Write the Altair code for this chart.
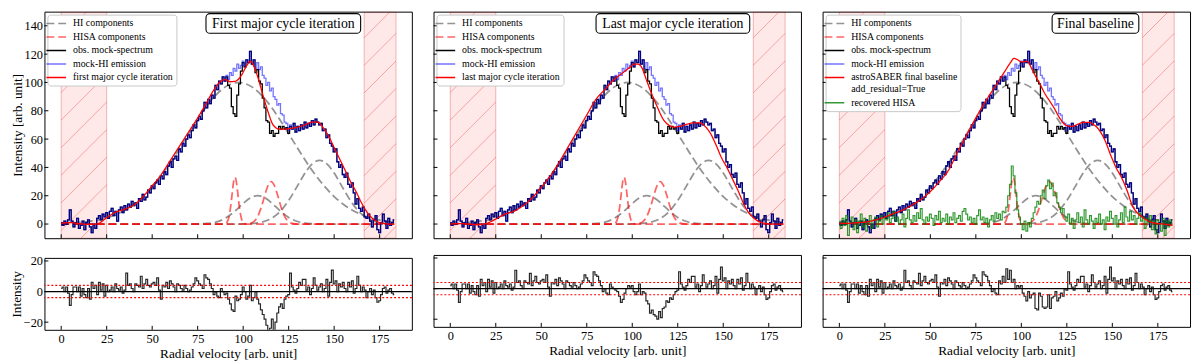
import altair as alt
import numpy as np
import pandas as pd

FONT = "Liberation Serif, Times New Roman, serif"

# ---------------- data ----------------
channels = list(range(184))

mock_hi = [1, -1, 2, 0, 3, 10, 2, -2, 1, 4,
           -3, -1, 2, -4, 1, 3, -2, -6, 0, -3,
           4, 6, 3, 7, 5, 8, 4, 9, 11, 6,
           9, 2, 10, 12, 8, 13, 10, 14, 12, 16,
           13, 15, 11, 18, 16, 21, 17, 19, 24, 22,
           27, 25, 29, 31, 28, 34, 32, 37, 35, 41,
           44, 40, 46, 48, 45, 53, 51, 57, 55, 60,
           63, 61, 66, 70, 68, 73, 76, 74, 80, 86,
           82, 88, 85, 91, 89, 98, 95, 101, 99, 104,
           101, 105, 102, 107, 105, 110, 108, 113, 110, 112,
           115, 111, 116, 114, 122, 113, 116, 110, 114, 109,
           111, 105, 103, 98, 100, 94, 96, 90, 88, 84,
           85, 78, 77, 72, 71, 66, 70, 67, 71, 65,
           69, 66, 70, 67, 72, 68, 71, 69, 73, 70,
           74, 72, 70, 71, 66, 67, 61, 63, 57, 55,
           51, 53, 44, 40, 42, 35, 33, 36, 28, 26,
           29, 22, 14, 18, 11, 9, 12, 5, 4, 7,
           2, -2, 3, 6, -4, -6, 1, 7, 2, -3,
           4, -1, 1, 3]

# observed spectrum differs from the mock-HI only in channels 91..126
obs_mid = [104, 98, 96, 83, 78, 76, 91, 99, 108, 114,
           111, 116, 114, 122, 113, 116, 107, 109, 101, 99,
           89, 82, 73, 72, 64, 66, 62, 64, 64, 69,
           67, 69, 67, 68, 64, 69]
obs = mock_hi[:91] + obs_mid + mock_hi[127:]

resid_first = [2, 3, 0, 3, -1, -9, -2, 3, 3, 0,
               3, -3, 2, -2, -4, 2, -5, 6, 2, 4,
               -2, 6, 1, 5, -3, 4, 0, 1, 3, 0,
               5, 2, 1, 3, -1, 1, 12, 4, 5, 2,
               0, 5, 4, 3, 10, 2, 5, 8, 4, 3,
               5, 6, 4, 9, 1, -5, 4, 3, 6, 2,
               7, 5, 3, 0, 5, 4, 2, 1, 4, 2,
               0, 1, 3, 5, 9, 7, 5, 4, 2, 11,
               9, 8, 5, 2, -2, 0, -3, -4, 2, 0,
               -2, -1, -5, -8, -12, -13, -3, -6, -5, -2,
               3, 0, -5, -3, 4, -6, -4, 0, -5, -8,
               -12, -15, -18, -22, -27, -24, -18, -26, -20, -14,
               -10, -8, -11, -5, -3, -2, 12, 3, 1, -1,
               2, 6, 4, 8, 8, 1, 3, -2, 2, 9,
               4, 1, 3, 5, 0, 2, 8, -3, 6, 14,
               5, 7, 0, 5, 3, 6, 2, 0, 6, 3,
               7, -1, 2, 10, 4, 0, 3, 1, -4, 0,
               2, -2, 1, -4, -7, -6, -2, 2, 3, -1,
               1, 2, -1, -2]
# channels 88..126 of the other two residuals
last_mid = [3, 1, 0, -1, -2, -5, -9, -7, -3, 0,
            2, 1, 2, -2, -4, -2, 3, -4, -2, -3,
            -8, -10, -16, -14, -17, -18, -20, -15, -19, -13,
            -12, -8, -9, -6, -7, -4, -2, -1, 11]
final_mid = [5, 3, 8, 4, 13, 6, 12, 4, 6, 0,
             2, 1, 2, -3, -5, -8, -2, -6, -4, -3,
             -13, -14, -3, -5, -12, -13, -12, -4, -13, -6,
             -5, -2, -8, -6, -3, -5, 0, -1, 11]
resid_last = resid_first[:88] + last_mid + resid_first[127:]
resid_final = resid_first[:88] + final_mid + resid_first[127:]

recovered_hisa = [2, -3, 4, -1, 6, -8, 1, 5, -4, 3,
                  -6, 2, 7, -2, 4, -5, 1, 6, -3, 3,
                  5, -2, 2, 6, 0, 4, 3, 8, 1, 4,
                  9, 2, 5, 0, 3, 7, -2, 4, 10, 3,
                  1, 6, 2, 8, 4, 11, 3, 0, 5, 2,
                  7, 4, -1, 6, 3, 9, 1, 4, 2, 7,
                  0, 5, 3, 8, 1, 4, 6, 2, 9, 11,
                  7, 3, 5, 1, 4, 0, 6, 10, 3, 5,
                  1, 4, -2, 3, 6, 2, 8, 4, 7, 3,
                  9, 8, 12, 20, 28, 41, 34, 22, 10, 5,
                  0, -4, 2, -5, 1, -2, 4, 8, 12, 16,
                  14, 20, 24, 18, 27, 31, 25, 29, 20, 22,
                  15, 12, 8, 11, 5, 2, 7, 0, 4, -3,
                  3, 8, 1, 5, -2, 10, 3, 0, 6, 2,
                  -3, 4, 1, 7, 0, 3, -4, 5, 2, 9,
                  4, 0, 6, -2, 3, 8, 1, 12, 5, 2,
                  9, 3, 6, 0, 4, 8, 2, 5, -3, 4,
                  1, 6, -4, 2, -7, 3, 0, -5, 4, -8,
                  2, -2, 3, -1]

# smooth fitted baselines (sampled)
fit_first_v = [0, 5, 10, 15, 20, 25, 30, 35, 40, 45, 50, 55, 60, 65, 70, 75, 80, 84, 87, 90,
               93, 96, 99, 102, 104, 106, 108, 110, 112, 114, 116, 118, 120, 123, 126, 130, 134, 138, 141, 144,
               147, 150, 153, 156, 159, 162, 165, 168, 171, 174, 177, 180, 183]
fit_first = [0.5, 1, 0.3, -0.3, 0.2, 4.5, 8.5, 10.5, 13.5, 19.4, 27, 35, 45, 55, 65, 75, 86, 95, 100, 102,
             100.5, 101, 105, 112, 115, 111, 104, 95, 86, 78, 71, 68, 67, 67, 67.5, 68.5, 70, 72, 72, 68,
             62, 54, 46, 38, 30, 23, 15, 8.5, 4, 1.5, 0.5, 0, 0]
fit_last_v = [0, 5, 10, 15, 20, 25, 30, 35, 40, 45, 50, 55, 60, 65, 70, 75, 80, 85, 90,
              95, 99, 101, 103, 105, 108, 111, 114, 117, 120, 123, 126, 130, 134, 137, 140, 143, 146, 149, 152,
              155, 158, 161, 164, 167, 170, 173, 176, 180, 183]
fit_last = [0, 0.3, 0, -0.5, 0.5, 3.5, 7, 9, 13, 18.5, 26, 34, 44, 55, 66, 77, 88, 95, 102,
            107, 111, 113, 113, 111, 101, 91, 82, 74, 70, 68.5, 69, 70.5, 71.5, 71.5, 69, 64, 56, 47, 40,
            32, 24, 15, 8, 4, 1.5, 0.5, 0, 0, 0]
fit_final_v = [0, 5, 10, 15, 20, 25, 30, 35, 40, 45, 50, 55, 60, 65, 70, 75, 80, 85,
               88, 91, 94, 96, 98, 100, 103, 106, 108, 110, 113, 116, 118, 121, 125, 128, 131, 134, 137, 140,
               143, 146, 149, 152, 155, 158, 161, 164, 167, 170, 174, 178, 183]
fit_final = [0.5, 0.5, 1, 1.5, 3, 5, 7.5, 10, 13.5, 17.5, 23, 30, 38, 51, 63, 75, 86, 96,
             102, 108, 114, 117, 116, 114.5, 115, 109, 104, 99.5, 92, 86, 82, 75, 69.5, 69, 70.5, 71.8, 71.8, 70,
             66, 59, 49, 40, 33, 24, 13, 7.5, 4.5, 2, 0.5, 0, -1]

# HI (grey dashed) components
hi1_v = [0, 5, 10, 15, 20, 25, 30, 35, 40, 45, 50, 55, 60, 65, 70, 75, 80, 85, 90, 95, 97.5,
         100, 105, 110, 115, 120, 125, 130, 135, 140, 145, 150, 155, 160, 165, 170, 175, 180, 183]
hi1 = [0.35, 0.6, 1.1, 1.75, 2.8, 4.4, 6.7, 9.8, 14, 19.4, 26.2, 34.2, 43.3, 53.4, 63.8, 74, 83.4, 91.1, 96.7, 99.6, 100,
       99.6, 96.7, 91.1, 83.4, 74, 63.8, 53.4, 43.3, 34.2, 26.2, 19.4, 14, 9.8, 6.7, 4.4, 2.8, 1.75, 1.3]
hi2_v = [0, 70, 75, 80, 85, 90, 95, 100, 104, 108, 112, 116, 120, 125, 130, 135, 140, 150, 183]
hi2 = [0, 0, 0.09, 0.4, 1.4, 4.0, 8.6, 14.5, 18.5, 20, 18.5, 14.5, 9.7, 4.7, 1.8, 0.5, 0.12, 0, 0]
hi3_v = [0, 95, 100, 105, 110, 115, 120, 125, 130, 135, 138, 142, 146, 150, 155, 160, 165, 170, 175, 180, 183]
hi3 = [0, 0, 0.1, 0.4, 1.3, 3.6, 8.4, 16.6, 27.3, 38, 42.5, 45, 42.5, 36, 25, 14.6, 7.2, 3.0, 1.0, 0.3, 0.15]

# HISA (red dashed) components
hisa1_v = [0, 88, 90, 91, 92, 93, 94, 94.75, 95.5, 96.25, 97, 98, 99, 100, 101, 103, 183]
hisa1 = [0, 0, 0.2, 1, 4.1, 11.2, 22.1, 30, 33, 30, 22.1, 11.2, 4.1, 1, 0.2, 0, 0]
hisa2_v = [0, 102, 104, 106, 108, 110, 112, 114, 115.4, 117, 119, 121, 123, 125, 127, 130, 183]
hisa2 = [0, 0, 0.5, 1.9, 5.4, 12.0, 20.9, 28.2, 30, 27.6, 20.1, 11.3, 4.9, 1.7, 0.4, 0, 0]

# masked (hatched) velocity ranges
band_lo = [0, 166.5]
band_hi = [25, 184]

x_ticks = [0, 25, 50, 75, 100, 125, 150, 175]
y_ticks_top = [0, 20, 40, 60, 80, 100, 120, 140]
y_ticks_bot = [-20, 0, 20]

panel_titles = ["First major cycle iteration", "Last major cycle iteration", "Final baseline"]
fit_labels = ["first major cycle iteration", "last major cycle iteration",
              "astroSABER final baseline|add_residual=True"]
base_series = ["HI components", "HISA components", "obs. mock-spectrum", "mock-HI emission"]

for name, arr in [("mock_hi", mock_hi), ("obs", obs), ("resid_first", resid_first),
                  ("resid_last", resid_last), ("resid_final", resid_final), ("recovered", recovered_hisa)]:
    assert len(arr) == 184, (name, len(arr))

# ---------------- layout / style ----------------
X_DOM = [-9.2, 192.7]
Y_TOP = [-10, 150]
Y_BOT = [-25, 22]
W = 373
H_TOP = 230
H_BOT = 73
HATCH = 28
BOX_R = 321
BOX_W = [157, 156, 88]

COL = {"HI components": "rgba(128,128,128,0.85)",
       "HISA components": "rgba(255,0,0,0.6)",
       "obs. mock-spectrum": "black",
       "mock-HI emission": "rgba(0,0,255,0.55)",
       "fit": "red",
       "recovered HISA": "rgba(0,128,0,0.8)"}
DASH = {"HI components": [8, 4], "HISA components": [8, 4]}


def xs(field, axis=None):
    return alt.X(f"{field}:Q", scale=alt.Scale(domain=X_DOM, nice=False, zero=False), axis=axis)


def hatch_df(H, ydom):
    kx = W / (X_DOM[1] - X_DOM[0])
    ky = H / (ydom[1] - ydom[0])
    rows = []
    for a, b in zip(band_lo, band_hi):
        xa = (a - X_DOM[0]) * kx
        xb = (b - X_DOM[0]) * kx
        for c in np.arange(-W, H, HATCH):
            lo = max(xa, -c)
            hi = min(xb, H - c)
            if hi > lo:
                rows.append({"hx": X_DOM[0] + lo / kx, "hy": ydom[0] + (lo + c) / ky,
                             "hx2": X_DOM[0] + hi / kx, "hy2": ydom[0] + (hi + c) / ky})
    return pd.DataFrame(rows)


def top_panel(i, fit_v, fit_vals, show_y, recovered=None):
    dom = base_series + [fit_labels[i]] + (["recovered HISA"] if recovered is not None else [])
    cols = [COL[s] if s in COL else COL["fit"] for s in dom]
    dashes = [DASH.get(s, [1, 0]) for s in dom]
    leg = alt.Legend(orient="top-left", offset=3, padding=3, fillColor="white", strokeColor="#c8c8c8",
                     cornerRadius=3, title=None, labelFont=FONT, labelFontSize=10, labelColor="black",
                     symbolType="M-2,0L2,0", symbolSize=100, symbolStrokeWidth=1.5, rowPadding=2.7,
                     labelOffset=11, labelLimit=400, labelExpr="split(datum.label, '|')")
    color = alt.Color("series:N", scale=alt.Scale(domain=dom, range=cols), legend=leg)
    dash = alt.StrokeDash("series:N", scale=alt.Scale(domain=dom, range=dashes), legend=leg)

    yax = None
    if show_y:
        yax = alt.Axis(values=y_ticks_top, title="Intensity [arb. unit]", titlePadding=0, labelPadding=2)

    def ys(field):
        return alt.Y(f"{field}:Q", scale=alt.Scale(domain=Y_TOP, nice=False, zero=False), axis=yax)

    bands = alt.Chart(pd.DataFrame({"b0": band_lo, "b1": band_hi})).mark_rect(
        fill="red", fillOpacity=0.09, stroke="rgba(210,0,0,0.28)", strokeWidth=1, clip=True
    ).encode(x=xs("b0"), x2="b1:Q")
    hatch = alt.Chart(hatch_df(H_TOP, Y_TOP)).mark_rule(
        color="rgba(220,0,0,0.3)", strokeWidth=1, clip=True
    ).encode(x=xs("hx"), y=ys("hy"), x2="hx2:Q", y2="hy2:Q")

    hi_df = pd.concat([
        pd.DataFrame({"v": hi1_v, "I": hi1, "comp": "c1"}),
        pd.DataFrame({"v": hi2_v, "I": hi2, "comp": "c2"}),
        pd.DataFrame({"v": hi3_v, "I": hi3, "comp": "c3"}),
    ])
    hi_df["series"] = "HI components"
    hisa_df = pd.concat([
        pd.DataFrame({"v": hisa1_v, "I": hisa1, "comp": "a1"}),
        pd.DataFrame({"v": hisa2_v, "I": hisa2, "comp": "a2"}),
    ])
    hisa_df["series"] = "HISA components"

    hi_l = alt.Chart(hi_df).mark_line(strokeWidth=1.8, interpolate="monotone", clip=True).encode(
        x=xs("v"), y=ys("I"), color=color, strokeDash=dash, detail="comp:N")
    hisa_l = alt.Chart(hisa_df).mark_line(strokeWidth=1.8, interpolate="monotone", clip=True).encode(
        x=xs("v"), y=ys("I"), color=color, strokeDash=dash, detail="comp:N")
    obs_l = alt.Chart(pd.DataFrame({"v": channels, "I": obs, "series": "obs. mock-spectrum"})).mark_line(
        strokeWidth=1.3, interpolate="step", clip=True).encode(x=xs("v"), y=ys("I"), color=color, strokeDash=dash)
    mock_l = alt.Chart(pd.DataFrame({"v": channels, "I": mock_hi, "series": "mock-HI emission"})).mark_line(
        strokeWidth=1.3, interpolate="step", clip=True).encode(x=xs("v"), y=ys("I"), color=color, strokeDash=dash)
    fit_l = alt.Chart(pd.DataFrame({"v": fit_v, "I": fit_vals, "series": fit_labels[i]})).mark_line(
        strokeWidth=1.3, interpolate="monotone", clip=True).encode(x=xs("v"), y=ys("I"), color=color, strokeDash=dash)

    layers = [bands, hatch, hi_l, hisa_l, obs_l, mock_l]
    if recovered is not None:
        rec_l = alt.Chart(pd.DataFrame({"v": channels, "I": recovered, "series": "recovered HISA"})).mark_line(
            strokeWidth=1.2, interpolate="step", clip=True).encode(x=xs("v"), y=ys("I"), color=color, strokeDash=dash)
        layers.append(rec_l)
    layers.append(fit_l)

    xt = alt.Chart(pd.DataFrame({"t": x_ticks})).mark_rule(color="black", strokeWidth=1).encode(
        x=xs("t"), y=alt.value(H_TOP), y2=alt.value(H_TOP - 4))
    yt = alt.Chart(pd.DataFrame({"t": y_ticks_top})).mark_rule(color="black", strokeWidth=1).encode(
        y=ys("t"), x=alt.value(0), x2=alt.value(4))
    tdf = pd.DataFrame({"label": [panel_titles[i]]})
    box = alt.Chart(tdf).mark_rect(fill="white", stroke="black", strokeWidth=1.1, cornerRadius=4).encode(
        x=alt.value(BOX_R - BOX_W[i]), x2=alt.value(BOX_R), y=alt.value(2), y2=alt.value(22))
    txt = alt.Chart(tdf).mark_text(font=FONT, fontSize=14, color="black", align="center",
                                   baseline="middle").encode(
        text="label:N", x=alt.value(BOX_R - BOX_W[i] / 2), y=alt.value(12.5))
    layers += [xt, yt, box, txt]
    return alt.layer(*layers).properties(width=W, height=H_TOP)


def bottom_panel(resid, show_y):
    xax = alt.Axis(values=x_ticks, title="Radial velocity [arb. unit]", labelPadding=3, titlePadding=2)
    yax = None
    if show_y:
        yax = alt.Axis(values=y_ticks_bot, title="Intensity", titlePadding=0, labelPadding=2)

    def ys(field):
        return alt.Y(f"{field}:Q", scale=alt.Scale(domain=Y_BOT, nice=False, zero=False), axis=yax)

    line = alt.Chart(pd.DataFrame({"v": channels, "r": resid})).mark_line(
        interpolate="step", color="black", opacity=0.85, strokeWidth=1.2, clip=True
    ).encode(x=xs("v", xax), y=ys("r"))
    zero = alt.Chart(pd.DataFrame({"lvl": [0]})).mark_rule(color="black", strokeWidth=1.3).encode(y=ys("lvl"))
    sig = alt.Chart(pd.DataFrame({"lvl": [-4, 4]})).mark_rule(
        color="red", strokeDash=[2, 2], strokeWidth=1.2).encode(y=ys("lvl"))
    xt = alt.Chart(pd.DataFrame({"t": x_ticks})).mark_rule(color="black", strokeWidth=1).encode(
        x=xs("t", xax), y=alt.value(H_BOT), y2=alt.value(H_BOT - 4))
    yt = alt.Chart(pd.DataFrame({"t": y_ticks_bot})).mark_rule(color="black", strokeWidth=1).encode(
        y=ys("t"), x=alt.value(0), x2=alt.value(4))
    return alt.layer(line, zero, sig, xt, yt).properties(width=W, height=H_BOT)


RES = dict(x="independent", y="independent", color="independent", strokeDash="independent")

cols = []
fits = [(fit_first_v, fit_first), (fit_last_v, fit_last), (fit_final_v, fit_final)]
resids = [resid_first, resid_last, resid_final]
for i in range(3):
    top = top_panel(i, fits[i][0], fits[i][1], i == 0, recovered_hisa if i == 2 else None)
    bot = bottom_panel(resids[i], i == 0)
    cols.append(alt.vconcat(top, bot, spacing=15).resolve_scale(**RES))

chart = alt.hconcat(*cols, spacing=18).resolve_scale(**RES).properties(
    padding={"left": 0, "top": 0, "right": 0, "bottom": 0}
).configure(font=FONT).configure_view(stroke="black", strokeWidth=1).configure_axis(
    labelFont=FONT, titleFont=FONT, labelFontSize=12.5, titleFontSize=13.5, titleFontWeight="normal",
    labelColor="black", titleColor="black", ticks=False, tickSize=0, domain=False, grid=False
)

chart.save("out.html", embed_options={"renderer": "svg", "actions": False})
